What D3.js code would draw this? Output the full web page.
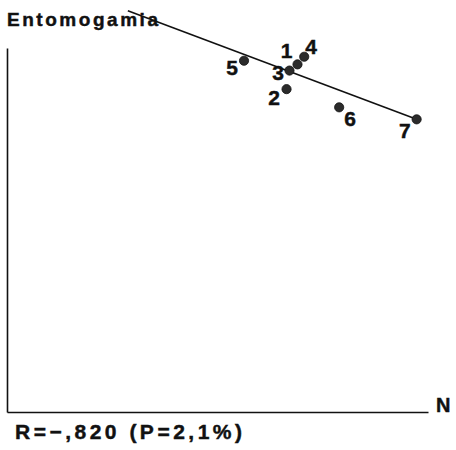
<!DOCTYPE html>
<html>
<head>
<meta charset="utf-8">
<script src="https://cdn.jsdelivr.net/npm/d3@7/dist/d3.min.js"></script>
<style>
  html, body { margin: 0; padding: 0; background: #fff; }
  svg { display: block; }
  text { font-family: "Liberation Sans", Arial, Helvetica, sans-serif; font-weight: bold; fill: #111; stroke: #111; stroke-width: 0.45px; }
</style>
</head>
<body>
<svg id="chart" width="456" height="450"></svg>
<script>
// ---- data (arbitrary units) ----
const labels = ["1", "2", "3", "4", "5", "6", "7"];
const nValues = [69.0, 66.4, 67.1, 70.6, 56.3, 78.9, 97.3];        // x: N
const entomogamia = [95.5, 88.7, 93.8, 97.6, 96.5, 83.7, 80.4];     // y: Entomogamia
const fitX = [28.7, 97.3];
const fitY = [110.2, 80.4];
const yTitle = "Entomogamia";
const xTitle = "N";
const stats = "R=−,820 (P=2,1%)";

// ---- drawing ----
const svg = d3.select("#chart");
const x = d3.scaleLinear().domain([0, 100]).range([7, 428]);
const y = d3.scaleLinear().domain([0, 100]).range([412, 48]);

const pts = labels.map((l, i) => ({ label: l, x: nValues[i], y: entomogamia[i] }));

// axes (no ticks)
const xAxis = d3.axisBottom(x).tickValues([]).tickSizeOuter(0);
const yAxis = d3.axisLeft(y).tickValues([]).tickSizeOuter(0);
svg.append("g").attr("transform", `translate(0,${y(0)})`).call(xAxis)
  .select(".domain").attr("stroke", "#111").attr("stroke-width", 1.6);
svg.append("g").attr("transform", `translate(${x(0)},0)`).call(yAxis)
  .select(".domain").attr("stroke", "#111").attr("stroke-width", 1.6);

// regression line
const line = d3.line().x(d => x(d[0])).y(d => y(d[1]));
svg.append("path")
  .datum(fitX.map((v, i) => [v, fitY[i]]))
  .attr("d", line)
  .attr("fill", "none")
  .attr("stroke", "#111")
  .attr("stroke-width", 1.6);

// points
svg.append("g").selectAll("circle").data(pts).join("circle")
  .attr("cx", d => x(d.x)).attr("cy", d => y(d.y)).attr("r", 4.6)
  .attr("fill", "#2b2b2b").attr("stroke", "#111").attr("stroke-width", 0.8);

// point labels
const place = {
  "1": { dx: -5, dy: -6, anchor: "end" },
  "2": { dx: -6.5, dy: 16, anchor: "end" },
  "3": { dx: -5.5, dy: 9.5, anchor: "end" },
  "4": { dx: 1, dy: -3, anchor: "start" },
  "5": { dx: -6, dy: 14, anchor: "end" },
  "6": { dx: 5, dy: 18.7, anchor: "start" },
  "7": { dx: -6, dy: 18.7, anchor: "end" }
};
svg.append("g").selectAll("text").data(pts).join("text")
  .attr("x", d => x(d.x) + place[d.label].dx)
  .attr("y", d => y(d.y) + place[d.label].dy)
  .attr("text-anchor", d => place[d.label].anchor)
  .attr("font-size", 21)
  .text(d => d.label);

// titles
svg.append("text").attr("x", 7).attr("y", 26).attr("font-size", 19)
  .attr("textLength", 151).attr("lengthAdjust", "spacing").text(yTitle);
svg.append("text").attr("x", 436).attr("y", 412).attr("font-size", 20).text(xTitle);
svg.append("text").attr("x", 15).attr("y", 439).attr("font-size", 21)
  .attr("textLength", 227).attr("lengthAdjust", "spacing").text(stats);
</script>
</body>
</html>
